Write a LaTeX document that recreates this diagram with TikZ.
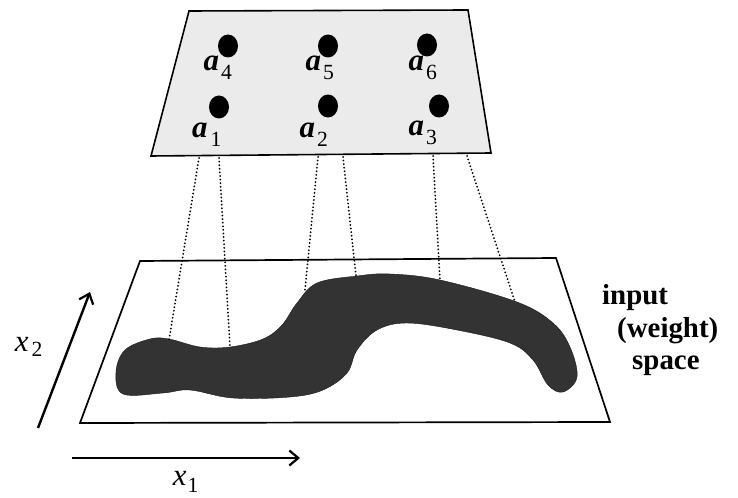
\documentclass[tikz,border=0pt]{standalone}
\usepackage{fontspec}
\setmainfont{Liberation Serif}
\usetikzlibrary{arrows.meta,shapes.geometric}
\begin{document}
\begin{tikzpicture}[x=1bp, y=-1bp,
    unit/.style={fill=black, ellipse, minimum width=20bp, minimum height=23bp, inner sep=0pt},
    unitname/.style={font=\fontsize{31}{33}\selectfont, inner sep=0pt},
    words/.style={font=\fontsize{29}{31}\selectfont\bfseries, inner sep=0pt, anchor=base west},
    axis/.style={line width=2.4bp, -{Straight Barb[length=9bp, width=15bp, line width=2.2bp]}},
    link/.style={line width=2bp, line cap=round, dash pattern=on 0bp off 3.6bp}]
    \useasboundingbox (0,0) rectangle (738,498);

    % Map layer
    \draw[fill=black!8, line width=1.6bp] (189,11) -- (468,10) -- (491,153) -- (151,156) -- cycle;
    \node[unit] (a4) at (228,46) {};
    \node[unit] (a5) at (328,46) {};
    \node[unit] (a6) at (427,45) {};
    \node[unit] (a1) at (219,107) {};
    \node[unit] (a2) at (328,106) {};
    \node[unit] (a3) at (439,106) {};
    \node[unitname] (n4) at (218,68) {\textbf{\textit{a}}\kern2bp\raisebox{-3bp}{\textsubscript{4}}};
    \node[unitname] (n5) at (320,68) {\textbf{\textit{a}}\kern2bp\raisebox{-3bp}{\textsubscript{5}}};
    \node[unitname] (n6) at (423,68) {\textbf{\textit{a}}\kern2bp\raisebox{-3bp}{\textsubscript{6}}};
    \node[unitname] (n1) at (207,135) {\textbf{\textit{a}}\kern3bp\raisebox{-3bp}{\textsubscript{1}}};
    \node[unitname] (n2) at (314,135) {\textbf{\textit{a}}\kern2bp\raisebox{-3bp}{\textsubscript{2}}};
    \node[unitname] (n3) at (423,133) {\textbf{\textit{a}}\kern2bp\raisebox{-3bp}{\textsubscript{3}}};

    % Input plane
    \draw[line width=1.7bp] (140,261) -- (556,258) -- (610,422) -- (80,423) -- cycle;
    \fill[black!80, draw=black!90] plot[smooth cycle, tension=0.6] coordinates {
        (116,372) (125,350) (150,339) (169,339) (200,347) (230,347) (263,339)
        (282,325) (297,303) (317,283) (357,276) (390,274) (440,280) (517,302)
        (553,323) (570,347) (577,377) (563,392) (548,385) (533,360) (510,343)
        (457,330) (407,323) (377,330) (357,350) (347,373) (323,390) (290,397)
        (233,398) (190,390) (163,393) (123,394)};

    % Links from units to the data
    \coordinate (t1) at (199,158);
    \coordinate (t2) at (219,158);
    \coordinate (t3) at (318,157);
    \coordinate (t4) at (343,157);
    \coordinate (t5) at (433,156);
    \coordinate (t6) at (467,156);
    \coordinate (b1) at (169,340);
    \coordinate (b2) at (230,347);
    \coordinate (b3) at (305,290);
    \coordinate (b4) at (356,276);
    \coordinate (b5) at (440,280);
    \coordinate (b6) at (515,302);
    \draw[link] (t1) -- (b1);
    \draw[link] (t2) -- (b2);
    \draw[link] (t3) -- (b3);
    \draw[link] (t4) -- (b4);
    \draw[link] (t5) -- (b5);
    \draw[link] (t6) -- (b6);

    % Axes
    \coordinate (o2) at (38,428);
    \coordinate (e2) at (90,292);
    \coordinate (o1) at (72,458);
    \coordinate (e1) at (300,458);
    \draw[axis] (o2) -- (e2);
    \draw[axis] (o1) -- (e1);
    \node[unitname] (x2) at (29,347) {\textit{x}\kern3bp\textsubscript{2}};
    \node[unitname] (x1) at (186,482) {\textit{x}\kern1bp\raisebox{-2bp}{\textsubscript{1}}};

    \node[words] (input) at (602,304) {input};
    \node[words] (weight) at (617,337) {(weight)};
    \node[words] (space) at (632,369) {space};
\end{tikzpicture}
\end{document}
